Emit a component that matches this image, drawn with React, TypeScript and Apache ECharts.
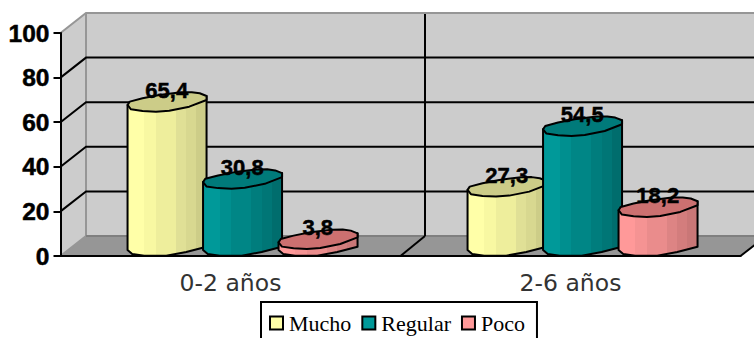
import React, { useEffect, useRef } from "react";
import * as echarts from "echarts";

const categories = ["0-2 años", "2-6 años"];
const seriesNames = ["Mucho", "Regular", "Poco"];
const mucho = [65.4, 27.3];
const regular = [30.8, 54.5];
const poco = [3.8, 18.2];
const yTicks = [0, 20, 40, 60, 80, 100];

const DEPTH_X = 25.5;
const DEPTH_Y = 20;
const BAR_STEP = 75.5;
const BAR_SHIFT = 11.75;
const BOLD_FONT = "'Liberation Sans', Arial, sans-serif";

// Outline of a column cap, relative to the column centre at its value height.
const CAP: number[][] = [
  [-39.2, -5.2], [-37, -8.5], [-24.2, -11.9], [-7.5, -15.2], [14.2, -17.9], [25, -18], [33, -16.9],
  [39.8, -14.2], [39.8, -10.2], [22.5, -3.5], [2.5, 0.5], [-10.8, 1.5], [-24.2, 0.8], [-35.8, -0.9],
];
// Lower rim of a column, relative to its centre on the zero line.
const RIM: number[][] = [
  [39.8, -9.3], [19.5, -4], [-0.5, -0.3], [-22.5, -0.3], [-34.5, -2], [-39.2, -6],
];

const FACET_EDGES = [0, 0.21, 0.36, 0.61, 0.74, 0.87, 1];
const PALETTES: Record<string, { facets: string[]; cap: string; key: string }> = {
  Mucho: {
    facets: ["#ffffa8", "#f8f8a2", "#eeee9c", "#e0e096", "#d8d890", "#cdcd88"],
    cap: "#cccc88",
    key: "#ffffa8",
  },
  Regular: {
    facets: ["#009999", "#008f8f", "#008686", "#007d7d", "#007676", "#006d6d"],
    cap: "#007a7a",
    key: "#009999",
  },
  Poco: {
    facets: ["#ff9999", "#f59393", "#ea8c8c", "#dd8484", "#d37d7d", "#c97777"],
    cap: "#cc7070",
    key: "#ff9999",
  },
};

function facetFill(facets: string[]) {
  const stops: { offset: number; color: string }[] = [];
  facets.forEach((color, i) => {
    stops.push({ offset: FACET_EDGES[i], color });
    stops.push({ offset: FACET_EDGES[i + 1], color });
  });
  return new echarts.graphic.LinearGradient(0, 0, 1, 0, stops);
}

// Draws one 3D column per data item, offset inside its category band.
function columnRenderer(seriesIndex: number, name: string) {
  const palette = PALETTES[name];
  return (_params: any, api: any) => {
    const cat = api.value(0);
    const value = api.value(1);
    const [bandX, topY] = api.coord([cat, value]);
    const [, baseY] = api.coord([cat, 0]);
    const cx = bandX + BAR_SHIFT + (seriesIndex - 1) * BAR_STEP;
    const capPts = CAP.map(([dx, dy]) => [cx + dx, topY + dy]);
    const bodyPts = [
      [cx + CAP[0][0], topY + CAP[0][1]],
      [cx + CAP[7][0], topY + CAP[7][1]],
      ...RIM.map(([dx, dy]) => [cx + dx, baseY + dy]),
    ];
    return {
      type: "group",
      children: [
        {
          type: "polygon",
          shape: { points: bodyPts },
          style: { fill: facetFill(palette.facets), stroke: "#000", lineWidth: 2, lineJoin: "round" },
        },
        {
          type: "polygon",
          shape: { points: capPts },
          style: { fill: palette.cap, stroke: "#000", lineWidth: 2, lineJoin: "round" },
        },
        {
          type: "text",
          style: {
            x: cx,
            y: topY - 20,
            text: String(value).replace(".", ","),
            fill: "#000",
            align: "center",
            verticalAlign: "middle",
            fontFamily: BOLD_FONT,
            fontWeight: "bold",
            fontSize: 22,
            stroke: "#000",
            lineWidth: 0.5,
          },
        },
      ],
    };
  };
}

// Walls, floor and the gridlines that wrap from the side wall onto the back wall.
function wallRenderer(params: any, api: any) {
  const tick = api.value(0);
  const cs = params.coordSys;
  const left = cs.x;
  const right = cs.x + cs.width;
  const [, y] = api.coord([0, tick]);
  const [, base] = api.coord([0, 0]);
  const [, top] = api.coord([0, 100]);
  const bx = left + DEPTH_X;
  const dx = DEPTH_X;
  const children: any[] = [];
  if (tick === 0) {
    const mid = (left + right) / 2;
    children.push(
      { type: "polygon", shape: { points: [[left, top], [bx, top - DEPTH_Y], [bx, base - DEPTH_Y], [left, base]] }, style: { fill: "#cccccc" } },
      { type: "polygon", shape: { points: [[bx, top - DEPTH_Y], [right + dx, top - DEPTH_Y], [right + dx, base - DEPTH_Y], [bx, base - DEPTH_Y]] }, style: { fill: "#cccccc" } },
      { type: "polygon", shape: { points: [[left, base], [bx, base - DEPTH_Y], [right + dx, base - DEPTH_Y], [right, base]] }, style: { fill: "#969696" } },
      { type: "line", shape: { x1: bx, y1: top - DEPTH_Y, x2: bx, y2: base - DEPTH_Y }, style: { stroke: "#969696", lineWidth: 2 } },
      { type: "line", shape: { x1: left, y1: base, x2: bx, y2: base - DEPTH_Y }, style: { stroke: "#969696", lineWidth: 2 } },
      { type: "line", shape: { x1: bx, y1: base - DEPTH_Y, x2: right + dx, y2: base - DEPTH_Y }, style: { stroke: "#7f7f7f", lineWidth: 2 } },
      { type: "line", shape: { x1: mid + dx - 1, y1: top - DEPTH_Y, x2: mid + dx - 1, y2: base - DEPTH_Y }, style: { stroke: "#000", lineWidth: 2 } },
      { type: "line", shape: { x1: mid, y1: base, x2: mid + dx - 1, y2: base - DEPTH_Y }, style: { stroke: "#000", lineWidth: 2 } },
      { type: "line", shape: { x1: right, y1: base, x2: right + dx, y2: base - DEPTH_Y }, style: { stroke: "#000", lineWidth: 2 } },
    );
  } else if (tick === 100) {
    children.push({
      type: "polyline",
      shape: { points: [[left, y], [bx, y - DEPTH_Y], [right + dx, y - DEPTH_Y]] },
      style: { stroke: "#969696", lineWidth: 2, fill: "none" },
    });
  } else {
    children.push({
      type: "polyline",
      shape: { points: [[left, y], [bx, y - DEPTH_Y], [right + dx, y - DEPTH_Y]] },
      style: { stroke: "#000", lineWidth: 2, fill: "none" },
    });
  }
  return { type: "group", children };
}

export default function App() {
  const ref = useRef<HTMLDivElement>(null);

  useEffect(() => {
    const chart = echarts.init(ref.current!, undefined, { renderer: "svg" });
    const values = [mucho, regular, poco];
    chart.setOption({
      animation: false,
      backgroundColor: "#fff",
      grid: { left: 60.5, right: 13.5, top: 33, bottom: 82 },
      legend: {
        data: seriesNames,
        left: 261,
        top: 302,
        padding: [10, 12, 30, 8],
        itemWidth: 13,
        itemHeight: 13,
        itemGap: 10,
        selectedMode: false,
        backgroundColor: "#fff",
        borderColor: "#000",
        borderWidth: 2,
        borderRadius: 0,
        icon: "rect",
        itemStyle: { borderColor: "#000", borderWidth: 2 },
        textStyle: {
          fontFamily: "'Liberation Serif', 'Times New Roman', serif",
          fontSize: 22,
          color: "#000",
          padding: [0, 0, 0, 1],
        },
      },
      xAxis: {
        type: "category",
        data: categories,
        z: 2,
        axisLine: { lineStyle: { color: "#000", width: 2 } },
        axisTick: { length: 6, lineStyle: { color: "#000", width: 2 } },
        axisLabel: {
          margin: 15,
          fontFamily: "'DejaVu Sans', sans-serif",
          fontSize: 23.5,
          color: "#333",
        },
      },
      yAxis: {
        type: "value",
        min: 0,
        max: 100,
        interval: 20,
        z: 2,
        splitLine: { show: false },
        axisLine: { show: true, lineStyle: { color: "#000", width: 2 } },
        axisTick: { show: true, length: 7, lineStyle: { color: "#000", width: 2 } },
        axisLabel: {
          margin: 11,
          fontFamily: BOLD_FONT,
          fontWeight: "bold",
          fontSize: 24.5,
          color: "#000",
          textBorderColor: "#000",
          textBorderWidth: 0.5,
        },
      },
      series: [
        {
          type: "custom",
          name: "planos",
          z: 1,
          clip: false,
          silent: true,
          data: yTicks.map((t) => [t]),
          encode: { y: 0 },
          renderItem: wallRenderer,
        },
        ...seriesNames.map((name, i) => ({
          type: "custom",
          name,
          z: 3 + i,
          clip: false,
          itemStyle: { color: PALETTES[name].key },
          encode: { x: 0, y: 1 },
          data: values[i].map((v, c) => [c, v]),
          renderItem: columnRenderer(i, name),
        })),
      ],
    });
    return () => chart.dispose();
  }, []);

  return <div ref={ref} style={{ position: "absolute", left: 0, top: 0, width: 754, height: 338, overflow: "hidden" }} />;
}
